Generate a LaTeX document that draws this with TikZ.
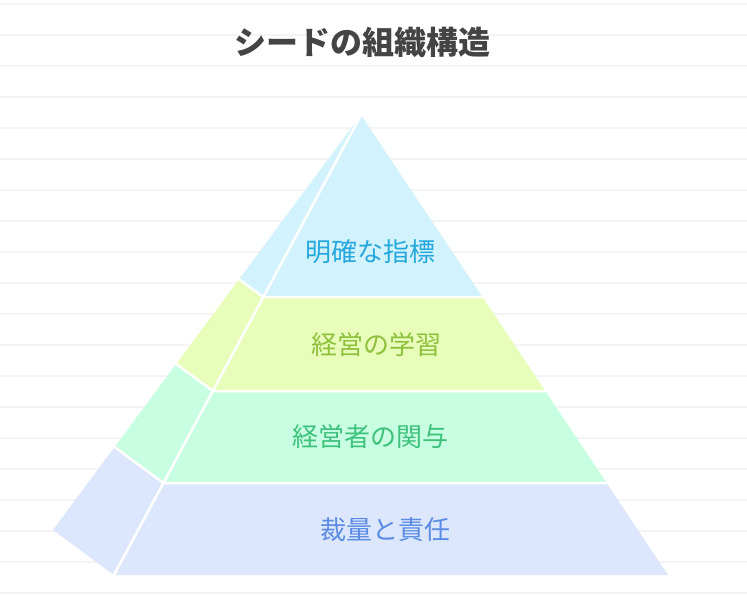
\documentclass[tikz,border=0pt]{standalone}
\usepackage{fontspec}
\setmainfont{Noto Sans CJK JP}
\usepackage{xcolor}
\usetikzlibrary{calc}

\definecolor{topfill}{HTML}{D2F2FD}
\definecolor{toptext}{HTML}{26A8DC}
\definecolor{learnfill}{HTML}{E8FDB9}
\definecolor{learntext}{HTML}{8EC03E}
\definecolor{involvefill}{HTML}{C8FEE1}
\definecolor{involvetext}{HTML}{3DC27C}
\definecolor{basefill}{HTML}{DCE7FD}
\definecolor{basetext}{HTML}{5B8BE2}
\definecolor{ruleline}{HTML}{F4F4F4}
\definecolor{titlegray}{HTML}{444444}

\begin{document}
\begin{tikzpicture}[
  x=1pt, y=-1pt,
  tier/.style={font=\fontsize{26}{30}\selectfont, inner sep=0pt, anchor=center},
  split/.style={draw=white, line width=2.5pt, line cap=round}
]
\useasboundingbox (0,0) rectangle (747,595);
\fill[white] (0,0) rectangle (747,595);
% ruled background
\foreach \yy in {4,35,...,593}
  \draw[ruleline, line width=1.6pt] (0,\yy) -- (747,\yy);

% title
\node[font=\fontsize{32}{36}\selectfont\bfseries, text=titlegray] (title) at (362,42) {シードの組織構造};

% corners of the pyramid
\coordinate (apex) at (361,115);
\coordinate (fl) at (114,575);
\coordinate (fr) at (668,575);
\coordinate (bk) at (53,530);

\coordinate (l1) at ($(apex)!0.3957!(fl)$);
\coordinate (l2) at ($(apex)!0.6!(fl)$);
\coordinate (l3) at ($(apex)!0.8!(fl)$);
\coordinate (r1) at ($(apex)!0.3957!(fr)$);
\coordinate (r2) at ($(apex)!0.6!(fr)$);
\coordinate (r3) at ($(apex)!0.8!(fr)$);
\coordinate (b1) at ($(apex)!0.3957!(bk)$);
\coordinate (b2) at ($(apex)!0.6!(bk)$);
\coordinate (b3) at ($(apex)!0.8!(bk)$);

% faces
\fill[topfill] (apex) -- (b1) -- (l1) -- (r1) -- cycle;
\fill[learnfill] (b1) -- (b2) -- (l2) -- (r2) -- (r1) -- (l1) -- cycle;
\fill[involvefill] (b2) -- (b3) -- (l3) -- (r3) -- (r2) -- (l2) -- cycle;
\fill[basefill] (b3) -- (bk) -- (fl) -- (fr) -- (r3) -- (l3) -- cycle;

% white dividers
\draw[split] (apex) -- (fl);
\draw[split] (b1) -- (l1) -- (r1);
\draw[split] (b2) -- (l2) -- (r2);
\draw[split] (b3) -- (l3) -- (r3);

% labels
\node[tier, text=toptext] (metric) at (370,252) {明確な指標};
\node[tier, text=learntext] (learn) at (376,345) {経営の学習};
\node[tier, text=involvetext] (involve) at (370,437) {経営者の関与};
\node[tier, text=basetext] (duty) at (385,530) {裁量と責任};
\end{tikzpicture}
\end{document}
